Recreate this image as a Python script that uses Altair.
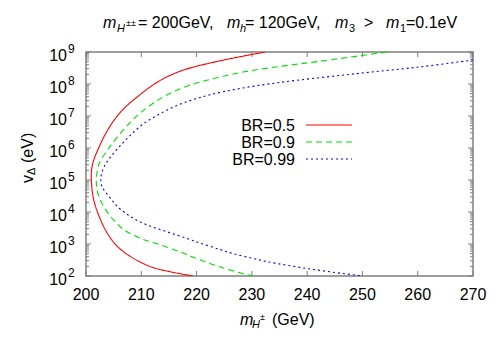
import altair as alt
import pandas as pd

# ---- data ----
series = ["BR=0.5", "BR=0.9", "BR=0.99"]
colors = ["#ff0000", "#00e000", "#0000ff"]

red_x = [232.4, 225.5, 219.5, 217.2, 214.1, 211.7, 209.3, 206.9, 205.1, 203.6,
         202.4, 201.4, 201.0, 201.0, 201.4, 202.4, 203.9, 205.7, 208.1, 211.7,
         215.3, 219.4]
red_y = [1e9, 5.9e8, 3.4e8, 2.57e8, 1.5e8, 8.3e7, 4e7, 1.74e7, 7.5e6, 2.9e6,
         1.1e6, 4.2e5, 2.0e5, 7.9e4, 2.37e4, 7.1e3, 2.1e3, 830, 400, 195,
         135, 100]

green_x = [254.4, 249.5, 241.8, 235.1, 228.4, 222.4, 219.5, 216.5, 213.5, 210.5,
           208.1, 205.7, 203.9, 202.4, 201.9, 202.0, 202.9, 204.5, 206.9, 209.9,
           213.5, 217.7, 219.5, 224.8, 230.2]
green_y = [1e9, 7.6e8, 5e8, 3.55e8, 2.37e8, 1.38e8, 1e8, 6.5e7, 3.55e7, 1.55e7,
           6.6e6, 2.24e6, 8.7e5, 3.3e5, 1.26e5, 4.9e4, 1.86e4, 7.1e3, 2.75e3, 1.5e3,
           930, 513, 380, 178, 100]

blue_x = [270.0, 259.9, 247.7, 235.1, 227.8, 222.4, 219.5, 216.5, 213.5, 210.5,
          208.1, 206.3, 204.5, 203.3, 202.7, 202.9, 204.2, 205.7, 208.1, 211.1,
          214.7, 218.3, 220.6, 224.2, 226.6, 230.2, 232.7, 240.5, 250.0]
blue_y = [5.6e8, 3.35e8, 2e8, 1.12e8, 7.2e7, 4.6e7, 3.3e7, 2.15e7, 1.2e7, 5.9e6,
          2.57e6, 1.23e6, 5.4e5, 2.63e5, 1.26e5, 6.2e4, 3e4, 1.48e4, 7.1e3, 3.9e3,
          2.4e3, 1.48e3, 1.07e3, 676, 500, 355, 282, 166, 100]

x_ticks = [200, 210, 220, 230, 240, 250, 260, 270]
y_exps = [2, 3, 4, 5, 6, 7, 8, 9]

# ---- build tables ----
rows = []
for name, xs, ys in zip(series, [red_x, green_x, blue_x], [red_y, green_y, blue_y]):
    for i, (a, b) in enumerate(zip(xs, ys)):
        rows.append({"series": name, "i": i, "m": a, "v": b})
df = pd.DataFrame(rows)

W, H = 387, 224
GRAY = "#7f7f7f"
FONT = "Liberation Sans"

xscale = alt.Scale(domain=[200, 270], nice=False, zero=False)
yscale = alt.Scale(type="log", domain=[1e2, 1e9], nice=False)
cscale = alt.Scale(domain=series, range=colors)
dscale = alt.Scale(domain=series, range=[[1, 0], [6, 4], [2, 3]])

lines = alt.Chart(df).mark_line(strokeWidth=1.1, clip=True, interpolate="catmull-rom").encode(
    x=alt.X("m:Q", scale=xscale, axis=None),
    y=alt.Y("v:Q", scale=yscale, axis=None),
    color=alt.Color("series:N", scale=cscale, legend=None),
    strokeDash=alt.StrokeDash("series:N", scale=dscale, legend=None),
    order="i:Q",
)

xt = pd.DataFrame({"t": x_ticks, "lab": [str(t) for t in x_ticks]})
yt = pd.DataFrame({"t": [10.0 ** e for e in y_exps], "e": [str(e) for e in y_exps]})
minor = pd.DataFrame({"t": [k * 10.0 ** e for e in y_exps[:-1] for k in range(2, 10)]})

xb = alt.X("t:Q", scale=xscale, axis=None)
yb = alt.Y("t:Q", scale=yscale, axis=None)

tick_layers = [
    alt.Chart(xt).mark_rule(color=GRAY, strokeWidth=1).encode(x=xb, y=alt.value(H), y2=alt.value(H - 5)),
    alt.Chart(xt).mark_rule(color=GRAY, strokeWidth=1).encode(x=xb, y=alt.value(0), y2=alt.value(5)),
    alt.Chart(yt).mark_rule(color=GRAY, strokeWidth=1).encode(y=yb, x=alt.value(0), x2=alt.value(5)),
    alt.Chart(yt).mark_rule(color=GRAY, strokeWidth=1).encode(y=yb, x=alt.value(W), x2=alt.value(W - 5)),
    alt.Chart(minor).mark_rule(color=GRAY, strokeWidth=1).encode(y=yb, x=alt.value(0), x2=alt.value(3)),
    alt.Chart(minor).mark_rule(color=GRAY, strokeWidth=1).encode(y=yb, x=alt.value(W), x2=alt.value(W - 3)),
]

xlabels = alt.Chart(xt).mark_text(font=FONT, fontSize=16, align="center", baseline="alphabetic", color="black").encode(
    x=xb, y=alt.value(H + 24), text="lab:N")
ylab10 = alt.Chart(yt).mark_text(font=FONT, fontSize=16, align="right", baseline="alphabetic", dy=9, color="black").encode(
    y=yb, x=alt.value(-19), text=alt.value("10"))
ylabexp = alt.Chart(yt).mark_text(font=FONT, fontSize=12, align="left", baseline="alphabetic", dy=1, color="black").encode(
    y=yb, x=alt.value(-18), text="e:N")

# ---- legend ----
leg = pd.DataFrame({"series": series, "ty": [79, 96, 113]})
leg_seg = pd.DataFrame({
    "series": [s for s in series for _ in range(2)],
    "lx": [220, 266] * 3,
    "ly": [73, 73, 90, 90, 107, 107],
})
leg_text = alt.Chart(leg).mark_text(font=FONT, fontSize=16, align="right", baseline="alphabetic", color="black").encode(
    x=alt.value(209), y=alt.Y("ty:Q", scale=None), text="series:N")
leg_line = alt.Chart(leg_seg).mark_line(strokeWidth=1.1).encode(
    x=alt.X("lx:Q", scale=None), y=alt.Y("ly:Q", scale=None),
    color=alt.Color("series:N", scale=cscale, legend=None),
    strokeDash=alt.StrokeDash("series:N", scale=dscale, legend=None),
    order="lx:Q")

# ---- title & axis titles (pieces in plot-relative pixels) ----
ital = pd.DataFrame([
    {"s": "m", "px": 17, "py": -24, "fs": 16},
    {"s": "H", "px": 31, "py": -20, "fs": 11},
    {"s": "m", "px": 141, "py": -24, "fs": 16},
    {"s": "h", "px": 154, "py": -20, "fs": 11},
    {"s": "m", "px": 249, "py": -24, "fs": 16},
    {"s": "m", "px": 300, "py": -24, "fs": 16},
    {"s": "m", "px": 154, "py": 273, "fs": 16},
    {"s": "H", "px": 166, "py": 276, "fs": 11},
])
norm = pd.DataFrame([
    {"s": "±±", "px": 40, "py": -26, "fs": 9},
    {"s": "= 200GeV,", "px": 52, "py": -24, "fs": 16},
    {"s": "= 120GeV,", "px": 159, "py": -24, "fs": 16},
    {"s": "3", "px": 263, "py": -20, "fs": 11},
    {"s": ">", "px": 278, "py": -24, "fs": 16},
    {"s": "1", "px": 314, "py": -20, "fs": 11},
    {"s": "=0.1eV", "px": 320, "py": -24, "fs": 16},
    {"s": "±", "px": 174, "py": 268, "fs": 9},
    {"s": "(GeV)", "px": 186, "py": 273, "fs": 16},
])
rot = pd.DataFrame([
    {"s": "v", "px": -53, "py": 131, "fs": 16},
    {"s": "Δ", "px": -51, "py": 123, "fs": 11},
    {"s": "(eV)", "px": -53, "py": 111, "fs": 16},
])

def pieces(d, **kw):
    return alt.Chart(d).mark_text(font=FONT, align="left", baseline="alphabetic", color="black", **kw).encode(
        x=alt.X("px:Q", scale=None), y=alt.Y("py:Q", scale=None),
        size=alt.Size("fs:Q", scale=None, legend=None), text="s:N")

texts = [pieces(ital, fontStyle="italic"), pieces(norm), pieces(rot, angle=270)]

chart = alt.layer(
    *tick_layers, lines, xlabels, ylab10, ylabexp, leg_text, leg_line, *texts
).properties(
    width=W, height=H,
    autosize=alt.AutoSizeParams(type="none"),
    padding={"left": 78, "top": 44, "right": 19, "bottom": 66},
).configure_view(stroke=GRAY, strokeWidth=1.5)

chart.save("out.html", embed_options={"renderer": "svg", "actions": False})
